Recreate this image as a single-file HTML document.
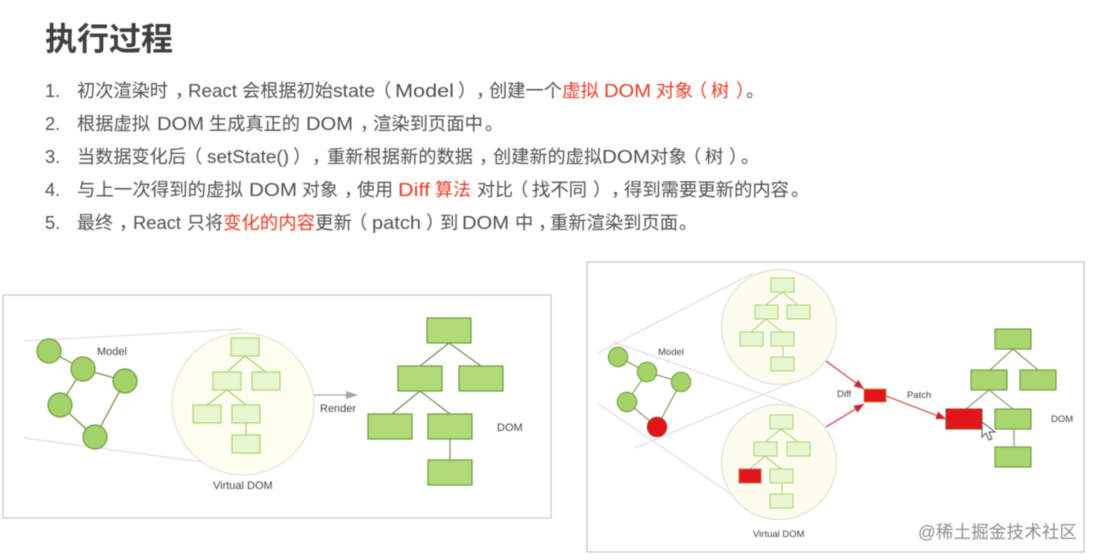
<!DOCTYPE html>
<html lang="zh"><head><meta charset="utf-8"><style>
html,body{margin:0;padding:0;background:#fff;width:1095px;height:560px;overflow:hidden}
svg{display:block;filter:blur(.45px)}
text{font-family:"Liberation Sans","Noto Sans CJK SC",sans-serif}
.h text{font-size:18.3px;fill:#505050}
.h text.r{fill:#ea3a26}
.l{font-size:11px;fill:#444}
.s{font-size:9.5px;fill:#444}
</style></head><body>
<svg width="1095" height="560" viewBox="0 0 1095 560" xmlns="http://www.w3.org/2000/svg">
<defs>
<marker id="a" viewBox="0 0 10 8" refX="10" refY="4" markerWidth="10" markerHeight="8" markerUnits="userSpaceOnUse" orient="auto"><path d="M0 0L10 4L0 8Z" fill="#cf2030"/></marker>
</defs>
<text x="45" y="50" font-size="32" font-weight="700" fill="#3f3f3f">执行过程</text>
<g class="h">
<text x="45" y="97">1.</text>
<text x="77" y="97" textLength="91" lengthAdjust="spacingAndGlyphs">初次渲染时</text>
<text x="175" y="97">，</text>
<text x="188" y="97" textLength="49" lengthAdjust="spacingAndGlyphs">React</text>
<text x="242" y="97" textLength="91" lengthAdjust="spacingAndGlyphs">会根据初始</text>
<text x="333" y="97" textLength="42" lengthAdjust="spacingAndGlyphs">state</text>
<text x="373" y="97">（</text>
<text x="395" y="97" textLength="59" lengthAdjust="spacingAndGlyphs">Model</text>
<text x="458" y="97">）</text>
<text x="476" y="97">，</text>
<text x="489" y="97" textLength="73" lengthAdjust="spacingAndGlyphs">创建一个</text>
<text class="r" x="562" y="97" textLength="37" lengthAdjust="spacingAndGlyphs">虚拟</text>
<text class="r" x="604" y="97" textLength="47" lengthAdjust="spacingAndGlyphs">DOM</text>
<text class="r" x="656" y="97" textLength="37" lengthAdjust="spacingAndGlyphs">对象</text>
<text class="r" x="689" y="97">（</text>
<text class="r" x="711" y="97">树</text>
<text class="r" x="736" y="97">）</text>
<text x="746" y="97">。</text>

<text x="45" y="130">2.</text>
<text x="77" y="130" textLength="73" lengthAdjust="spacingAndGlyphs">根据虚拟</text>
<text x="157" y="130" textLength="47" lengthAdjust="spacingAndGlyphs">DOM</text>
<text x="209" y="130" textLength="91" lengthAdjust="spacingAndGlyphs">生成真正的</text>
<text x="306" y="130" textLength="47" lengthAdjust="spacingAndGlyphs">DOM</text>
<text x="360" y="130">，</text>
<text x="373" y="130" textLength="110" lengthAdjust="spacingAndGlyphs">渲染到页面中</text>
<text x="485" y="130">。</text>

<text x="45" y="163">3.</text>
<text x="77" y="163" textLength="109" lengthAdjust="spacingAndGlyphs">当数据变化后</text>
<text x="184" y="163">（</text>
<text x="207" y="163" textLength="82" lengthAdjust="spacingAndGlyphs">setState()</text>
<text x="293" y="163">）</text>
<text x="312" y="163">，</text>
<text x="327" y="163" textLength="146" lengthAdjust="spacingAndGlyphs">重新根据新的数据</text>
<text x="479" y="163">，</text>
<text x="493" y="163" textLength="109" lengthAdjust="spacingAndGlyphs">创建新的虚拟</text>
<text x="602" y="163" textLength="48" lengthAdjust="spacingAndGlyphs">DOM</text>
<text x="650" y="163" textLength="37" lengthAdjust="spacingAndGlyphs">对象</text>
<text x="683" y="163">（</text>
<text x="705" y="163">树</text>
<text x="729" y="163">）</text>
<text x="741" y="163">。</text>

<text x="45" y="196">4.</text>
<text x="77" y="196" textLength="166" lengthAdjust="spacingAndGlyphs">与上一次得到的虚拟</text>
<text x="249" y="196" textLength="48" lengthAdjust="spacingAndGlyphs">DOM</text>
<text x="302" y="196" textLength="36" lengthAdjust="spacingAndGlyphs">对象</text>
<text x="344" y="196">，</text>
<text x="357" y="196" textLength="36" lengthAdjust="spacingAndGlyphs">使用</text>
<text class="r" x="398" y="196" textLength="32" lengthAdjust="spacingAndGlyphs">Diff</text>
<text class="r" x="435" y="196" textLength="36" lengthAdjust="spacingAndGlyphs">算法</text>
<text x="477" y="196" textLength="36" lengthAdjust="spacingAndGlyphs">对比</text>
<text x="510" y="196">（</text>
<text x="532" y="196" textLength="55" lengthAdjust="spacingAndGlyphs">找不同</text>
<text x="593" y="196">）</text>
<text x="611" y="196">，</text>
<text x="624" y="196" textLength="165" lengthAdjust="spacingAndGlyphs">得到需要更新的内容</text>
<text x="791" y="196">。</text>

<text x="45" y="229">5.</text>
<text x="77" y="229" textLength="36" lengthAdjust="spacingAndGlyphs">最终</text>
<text x="119" y="229">，</text>
<text x="133" y="229" textLength="48" lengthAdjust="spacingAndGlyphs">React</text>
<text x="187" y="229" textLength="36" lengthAdjust="spacingAndGlyphs">只将</text>
<text class="r" x="223" y="229" textLength="92" lengthAdjust="spacingAndGlyphs">变化的内容</text>
<text x="315" y="229" textLength="37" lengthAdjust="spacingAndGlyphs">更新</text>
<text x="349" y="229">（</text>
<text x="372" y="229" textLength="49" lengthAdjust="spacingAndGlyphs">patch</text>
<text x="426" y="229">）</text>
<text x="440" y="229">到</text>
<text x="462" y="229" textLength="47" lengthAdjust="spacingAndGlyphs">DOM</text>
<text x="515" y="229">中</text>
<text x="538" y="229">，</text>
<text x="550" y="229" textLength="128" lengthAdjust="spacingAndGlyphs">重新渲染到页面</text>
<text x="679" y="229">。</text>
</g>

<!-- left panel -->
<rect x="3" y="295" width="548" height="223" fill="#fff" stroke="#c8c8c8" stroke-width="1.2"/>
<g stroke="#d9d9d9" stroke-width="1" fill="none"><path d="M24 341L243 329M24 438L240 467"/></g>
<circle cx="243" cy="404" r="71" fill="#fdfeef" stroke="#e3e5d8" stroke-width="1.2"/>
<g stroke="#77883f" stroke-width="1.2" fill="none">
<path d="M49 351L83 369L125 381L95 437L60 405L83 369"/>
</g>
<g fill="#a4d36a" stroke="#6f9a3c" stroke-width="1.2">
<circle cx="49" cy="351" r="12"/><circle cx="83" cy="369" r="12"/><circle cx="125" cy="381" r="12"/><circle cx="60" cy="405" r="12"/><circle cx="95" cy="437" r="12"/>
</g>
<g stroke="#a9cf6f" stroke-width="1.2" fill="none">
<path d="M245 356L227 372M245 356L266 372M227 390L207 405M227 390L246 405M246 423V435"/>
</g>
<g fill="#e8f6d0" stroke="#a9d56f" stroke-width="1.2">
<rect x="231" y="338" width="28" height="18"/><rect x="213" y="372" width="28" height="18"/><rect x="252" y="372" width="28" height="18"/><rect x="193" y="405" width="28" height="18"/><rect x="232" y="405" width="28" height="18"/><rect x="232" y="435" width="28" height="18"/>
</g>
<g stroke="#7c8a58" stroke-width="1.2" fill="none">
<path d="M449 343L420 366M449 343L481 366M420 391L392 414M420 391L450 414M450 439V460"/>
</g>
<g fill="#b0dc78" stroke="#6f9a3c" stroke-width="1.2">
<rect x="427" y="318" width="44" height="25"/><rect x="398" y="366" width="44" height="25"/><rect x="459" y="366" width="44" height="25"/><rect x="368" y="414" width="44" height="25"/><rect x="428" y="414" width="44" height="25"/><rect x="428" y="460" width="44" height="25"/>
</g>
<path d="M314 395H348" stroke="#aaa" stroke-width="1.2"/><path d="M346 391L358 395L346 399Z" fill="#a6a6a6"/>
<text class="l" x="97" y="355">Model</text>
<text class="l" x="213" y="489">Virtual DOM</text>
<text class="l" x="320" y="412">Render</text>
<text class="l" x="497" y="431">DOM</text>

<!-- right panel -->
<rect x="587" y="262" width="497" height="290" fill="#fff" stroke="#c4c4c4" stroke-width="1.2"/>
<g stroke="#dadada" stroke-width="1" fill="none"><path d="M598 353L753 273M613 342L793 405M635 448L793 382M597 403L747 505"/></g>
<circle cx="779" cy="327" r="57.5" fill="#fcfdef" stroke="#e1e3d6" stroke-width="1.2"/>
<circle cx="779" cy="462" r="57.5" fill="#fcfdef" stroke="#e1e3d6" stroke-width="1.2"/>
<g stroke="#77883f" stroke-width="1" fill="none">
<path d="M618 357L647 372L681 382L657 427L627 402L647 372"/>
</g>
<g fill="#a4d36a" stroke="#6f9a3c" stroke-width="1">
<circle cx="618" cy="357" r="9.7"/><circle cx="647" cy="372" r="9.7"/><circle cx="681" cy="382" r="9.7"/><circle cx="627" cy="402" r="9.7"/>
</g>
<circle cx="657" cy="427" r="9.7" fill="#e2141a" stroke="#b5352a" stroke-width="1"/>
<g stroke="#a9cf6f" stroke-width="1" fill="none">
<path d="M782 292L766 305M782 292L798 305M766 319L751 332M766 319L782 332M783 346V357"/>
<path d="M781 429L765 442M781 429L798 442M765 456L750 469M765 456L781 469M782 483V494"/>
</g>
<g fill="#e8f6d0" stroke="#a9d56f" stroke-width="1">
<rect x="771" y="278" width="23" height="14"/><rect x="755" y="305" width="23" height="14"/><rect x="787" y="305" width="23" height="14"/><rect x="740" y="332" width="23" height="14"/><rect x="771" y="332" width="23" height="14"/><rect x="771" y="357" width="23" height="14"/>
<rect x="770" y="415" width="23" height="14"/><rect x="754" y="442" width="23" height="14"/><rect x="787" y="442" width="23" height="14"/><rect x="770" y="469" width="23" height="14"/><rect x="770" y="494" width="23" height="14"/>
</g>
<rect x="739" y="469" width="22" height="14" fill="#e0161a" stroke="#c9703a" stroke-width="1"/>
<g stroke="#7c8a58" stroke-width="1.1" fill="none">
<path d="M1013 349L990 370M1013 349L1038 370M989 390L966 409M989 390L1013 409"/>
<path d="M1014 429V447" stroke="#a8b088" stroke-width="1.6"/>
</g>
<g fill="#a8d770" stroke="#6f9a3c" stroke-width="1.1">
<rect x="995" y="329" width="36" height="20"/><rect x="971" y="370" width="36" height="20"/><rect x="1020" y="370" width="36" height="20"/><rect x="995" y="409" width="36" height="20"/><rect x="995" y="447" width="36" height="20"/>
</g>
<rect x="946" y="409" width="36" height="20" fill="#e0161a" stroke="#a8402a" stroke-width="1.1"/>
<rect x="864" y="389" width="22" height="13" fill="#e0161a" stroke="#d08a3a" stroke-width="1"/>
<g stroke="#d03040" stroke-width="1.1" fill="none">
<path d="M826 361L864 389" marker-end="url(#a)"/>
<path d="M826 427L864 404" marker-end="url(#a)"/>
<path d="M886 396L946 419" marker-end="url(#a)"/>
</g>
<path d="M982 422V437L986 433L989 440L992 439L989 432L995 432Z" fill="#fff" stroke="#555" stroke-width="1"/>
<text class="s" x="658" y="355">Model</text>
<text class="s" x="753" y="537">Virtual DOM</text>
<text class="s" x="837" y="397">Diff</text>
<text class="s" x="907" y="398">Patch</text>
<text class="s" x="1051" y="422">DOM</text>
<text x="918" y="538" font-size="17.5" fill="#8c8c8c" textLength="159" lengthAdjust="spacing">@稀土掘金技术社区</text>
</svg>
</body></html>
